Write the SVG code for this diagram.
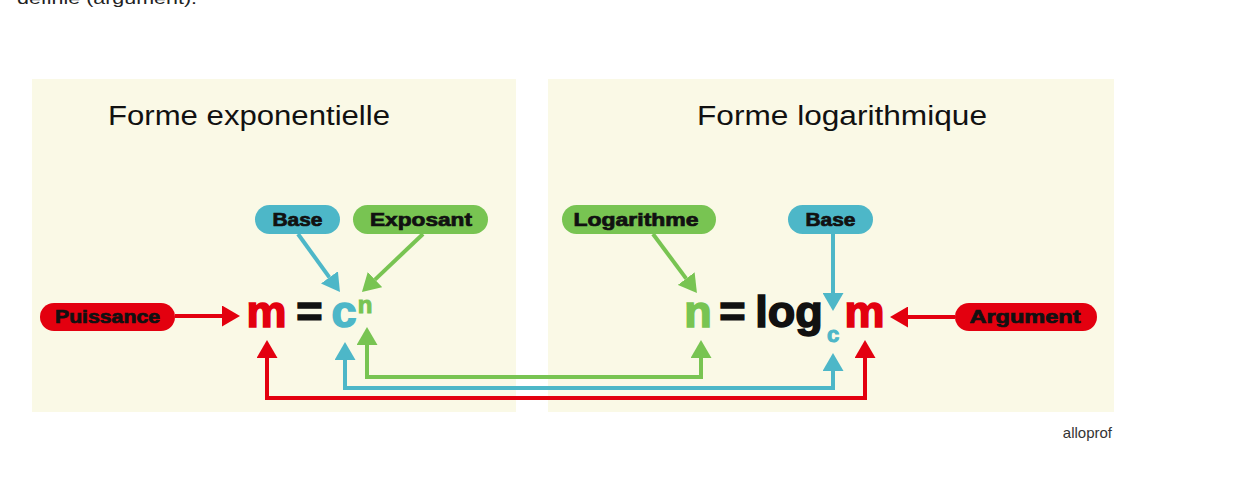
<svg xmlns="http://www.w3.org/2000/svg" width="1236" height="494" viewBox="0 0 1236 494">
<defs>
<style>
.panel{fill:#faf9e6}
.title{font-family:"Liberation Sans",Arial,sans-serif;font-size:27px;fill:#111}
.lbl{font-family:"Liberation Sans",Arial,sans-serif;font-weight:bold;font-size:18px;fill:#111;stroke:#111;stroke-width:0.7;text-anchor:middle}
.eq{font-family:"Liberation Sans",Arial,sans-serif;font-weight:bold;font-size:45px;text-anchor:middle;stroke-width:1.6}
.teal{fill:#4db7c8;stroke:#4db7c8}
.green{fill:#78c452;stroke:#78c452}
.red{fill:#e3000f;stroke:#e3000f}
.blk{fill:#111;stroke:#111}
rect.teal,rect.green,rect.red{stroke:none}
.ln{fill:none;stroke-width:4}
.sred{stroke:#e3000f}
.steal{stroke:#4db7c8}
.sgreen{stroke:#78c452}
</style>
<marker id="ar" markerUnits="userSpaceOnUse" markerWidth="18" markerHeight="21" refX="0" refY="10.5" orient="auto-start-reverse" viewBox="0 0 18 21"><path d="M0,0 L18,10.5 L0,21 z" fill="#e3000f"/></marker>
<marker id="at" markerUnits="userSpaceOnUse" markerWidth="18" markerHeight="21" refX="0" refY="10.5" orient="auto-start-reverse" viewBox="0 0 18 21"><path d="M0,0 L18,10.5 L0,21 z" fill="#4db7c8"/></marker>
<marker id="ag" markerUnits="userSpaceOnUse" markerWidth="18" markerHeight="21" refX="0" refY="10.5" orient="auto-start-reverse" viewBox="0 0 18 21"><path d="M0,0 L18,10.5 L0,21 z" fill="#78c452"/></marker>
</defs>
<rect width="1236" height="494" fill="#ffffff"/>
<text x="17" y="4" font-family="Liberation Sans,Arial,sans-serif" font-size="17" fill="#222" textLength="180" lengthAdjust="spacingAndGlyphs">définie (argument).</text>
<g id="panel-exp">
<rect class="panel" x="32" y="79" width="484" height="333"/>
<text class="title" x="108" y="125" textLength="282" lengthAdjust="spacingAndGlyphs">Forme exponentielle</text>
</g>
<g id="panel-log">
<rect class="panel" x="548" y="79" width="566" height="333"/>
<text class="title" x="697" y="125" textLength="290" lengthAdjust="spacingAndGlyphs">Forme logarithmique</text>
</g>
<g id="connectors">
<line class="ln sred" x1="175" y1="316" x2="222" y2="316" marker-end="url(#ar)"/>
<line class="ln sred" x1="955" y1="317" x2="908" y2="317" marker-end="url(#ar)"/>
<line class="ln steal" x1="298" y1="234" x2="329.4" y2="277.4" marker-end="url(#at)"/>
<line class="ln sgreen" x1="423" y1="234" x2="375" y2="279.6" marker-end="url(#ag)"/>
<line class="ln sgreen" x1="653" y1="234" x2="686.2" y2="278.6" marker-end="url(#ag)"/>
<line class="ln steal" x1="833" y1="234" x2="833" y2="293" marker-end="url(#at)"/>
<polyline class="ln sred" points="267,358 267,398 865,398 865,358" marker-start="url(#ar)" marker-end="url(#ar)"/>
<polyline class="ln steal" points="345,360 345,388 833,388 833,371" marker-start="url(#at)" marker-end="url(#at)"/>
<polyline class="ln sgreen" points="367,345 367,377 701,377 701,358" marker-start="url(#ag)" marker-end="url(#ag)"/>
</g>
<g id="label-puissance">
<rect class="red" x="40" y="303" width="135" height="28" rx="14"/>
<text class="lbl" x="107.5" y="323" textLength="105" lengthAdjust="spacingAndGlyphs">Puissance</text>
</g>
<g id="label-base-exp">
<rect class="teal" x="255" y="205" width="85" height="29" rx="14.5"/>
<text class="lbl" x="297.5" y="226" textLength="50" lengthAdjust="spacingAndGlyphs">Base</text>
</g>
<g id="label-exposant">
<rect class="green" x="353" y="205" width="135" height="29" rx="14.5"/>
<text class="lbl" x="421" y="226" textLength="102" lengthAdjust="spacingAndGlyphs">Exposant</text>
</g>
<g id="label-logarithme">
<rect class="green" x="562" y="205" width="154" height="29" rx="14.5"/>
<text class="lbl" x="636" y="226" textLength="125" lengthAdjust="spacingAndGlyphs">Logarithme</text>
</g>
<g id="label-base-log">
<rect class="teal" x="788" y="205" width="85" height="29" rx="14.5"/>
<text class="lbl" x="830.5" y="226" textLength="50" lengthAdjust="spacingAndGlyphs">Base</text>
</g>
<g id="label-argument">
<rect class="red" x="955" y="303" width="142" height="28" rx="14"/>
<text class="lbl" x="1025" y="323" textLength="111" lengthAdjust="spacingAndGlyphs">Argument</text>
</g>
<g id="eq-exp">
<text class="eq red" x="266.5" y="327">m</text>
<text class="eq blk" x="309.5" y="327">=</text>
<text class="eq teal" x="344" y="327">c</text>
<text class="eq green" x="365" y="313" style="font-size:24px;stroke-width:1">n</text>
</g>
<g id="eq-log">
<text class="eq green" x="698" y="327">n</text>
<text class="eq blk" x="732.5" y="327">=</text>
<text class="eq blk" x="789" y="327">log</text>
<text class="eq teal" x="833" y="342" style="font-size:22px;stroke-width:1">c</text>
<text class="eq red" x="864.5" y="327">m</text>
</g>
<text x="1112" y="438" font-family="Liberation Sans,Arial,sans-serif" font-size="15" fill="#333" text-anchor="end">alloprof</text>
</svg>
